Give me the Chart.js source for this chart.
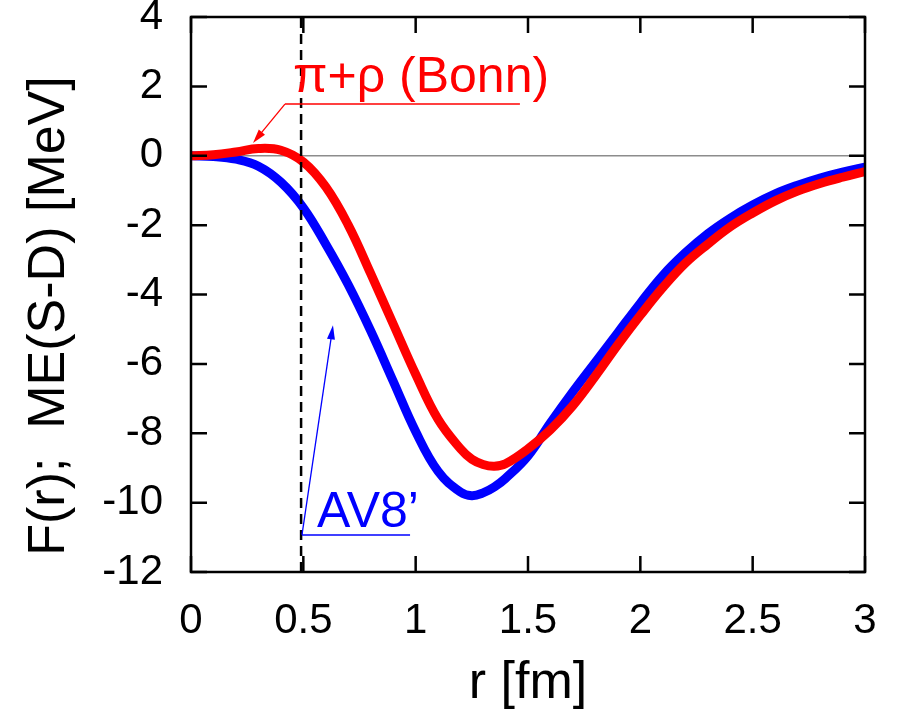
<!DOCTYPE html>
<html lang="en">
<head>
<meta charset="UTF-8">
<title>F(r); ME(S-D)</title>
<script src="https://cdn.jsdelivr.net/npm/chart.js"></script>
<style>
    body {
        margin: 0;
        background: #fff;
    }
    #wrap {
        width: 897px;
        height: 710px;
    }
</style>
</head>
<body>
<div id="wrap"><canvas id="chart" width="897" height="710"></canvas></div>
<script>
// r [fm] sample points (shared by both curves)
const rValues = [0, 0.1, 0.2, 0.3, 0.4, 0.5, 0.6, 0.7, 0.8, 0.9, 1.0, 1.1, 1.2, 1.25, 1.3, 1.35, 1.4,
    1.5, 1.6, 1.7, 1.8, 1.9, 2.0, 2.1, 2.2, 2.3, 2.4, 2.5, 2.6, 2.7, 2.8, 2.9, 3.0];
// AV8' (blue)
const av8Values = [0, -0.02, -0.1, -0.3, -0.76, -1.5, -2.55, -3.72, -5.05, -6.5, -7.95, -9.1, -9.7,
    -9.8, -9.72, -9.55, -9.3, -8.65, -7.7, -6.8, -5.95, -5.1, -4.25, -3.45, -2.8, -2.25, -1.8, -1.42, -1.1,
    -0.85, -0.64, -0.47, -0.33];
// pi+rho (Bonn) (red)
const bonnValues = [0, 0.03, 0.11, 0.21, 0.16, -0.18, -0.9, -2.0, -3.4, -4.85, -6.3, -7.6, -8.45,
    -8.75, -8.9, -8.95, -8.88, -8.45, -7.9, -7.2, -6.35, -5.45, -4.6, -3.8, -3.1, -2.55, -2.05, -1.65, -1.3,
    -1.02, -0.8, -0.62, -0.46];

const xTickValues = [0, 0.5, 1, 1.5, 2, 2.5, 3];
const xTickLabels = ['0', '0.5', '1', '1.5', '2', '2.5', '3'];
const yTickValues = [-12, -10, -8, -6, -4, -2, 0, 2, 4];
const yTickLabels = ['-12', '-10', '-8', '-6', '-4', '-2', '0', '2', '4'];
const cutoffR = 0.49;

const xTitle = 'r [fm]';
const yTitle = 'F(r);  ME(S-D) [MeV]';
const bonnLabel = 'π+ρ (Bonn)';
const av8Label = 'AV8’';

const FONT = '"Liberation Sans", Arial, Helvetica, sans-serif';

function toPoints(xs, ys) {
    return xs.map((x, i) => ({ x: x, y: ys[i] }));
}

function arrow(ctx, x0, y0, x1, y1, color) {
    const ang = Math.atan2(y1 - y0, x1 - x0);
    const len = 14, half = 4;
    ctx.strokeStyle = color;
    ctx.fillStyle = color;
    ctx.lineWidth = 1.3;
    ctx.beginPath();
    ctx.moveTo(x0, y0);
    ctx.lineTo(x1 - len * 0.7 * Math.cos(ang), y1 - len * 0.7 * Math.sin(ang));
    ctx.stroke();
    ctx.beginPath();
    ctx.moveTo(x1, y1);
    ctx.lineTo(x1 - len * Math.cos(ang) + half * Math.sin(ang), y1 - len * Math.sin(ang) - half * Math.cos(ang));
    ctx.lineTo(x1 - len * Math.cos(ang) - half * Math.sin(ang), y1 - len * Math.sin(ang) + half * Math.cos(ang));
    ctx.closePath();
    ctx.fill();
}

// frame with inward ticks on all four sides, plus labels and arrows
const framePlugin = {
    id: 'frame',
    afterDatasetsDraw(chart) {
        const { ctx, chartArea: a, scales: { x, y } } = chart;
        ctx.save();
        ctx.strokeStyle = '#000';
        ctx.lineWidth = 2.5;
        ctx.strokeRect(a.left, a.top, a.right - a.left, a.bottom - a.top);
        ctx.beginPath();
        xTickValues.forEach(v => {
            const px = x.getPixelForValue(v);
            ctx.moveTo(px, a.bottom); ctx.lineTo(px, a.bottom - 16);
            ctx.moveTo(px, a.top); ctx.lineTo(px, a.top + 16);
        });
        yTickValues.forEach(v => {
            const py = y.getPixelForValue(v);
            ctx.moveTo(a.left, py); ctx.lineTo(a.left + 16, py);
            ctx.moveTo(a.right, py); ctx.lineTo(a.right - 16, py);
        });
        ctx.stroke();
        ctx.restore();
    },
    afterDraw(chart) {
        const { ctx, scales: { x, y } } = chart;
        const X = v => x.getPixelForValue(v);
        const Y = v => y.getPixelForValue(v);
        ctx.save();

        // red label
        ctx.font = '50px ' + FONT;
        ctx.textBaseline = 'alphabetic';
        ctx.textAlign = 'left';
        ctx.fillStyle = '#ff0000';
        ctx.fillText(bonnLabel, X(0.454), Y(1.84));
        ctx.strokeStyle = '#ff0000';
        ctx.lineWidth = 1.5;
        ctx.beginPath();
        ctx.moveTo(X(0.418), Y(1.49));
        ctx.lineTo(X(1.464), Y(1.49));
        ctx.stroke();
        arrow(ctx, X(0.418), Y(1.49), X(0.276), Y(0.37), '#ff0000');

        // blue label
        ctx.fillStyle = '#0000ff';
        ctx.fillText(av8Label, X(0.561), Y(-10.7));
        ctx.strokeStyle = '#0000ff';
        ctx.lineWidth = 1.5;
        ctx.beginPath();
        ctx.moveTo(X(0.494), Y(-10.93));
        ctx.lineTo(X(0.975), Y(-10.93));
        ctx.stroke();
        arrow(ctx, X(0.494), Y(-10.93), X(0.632), Y(-4.89), '#0000ff');

        // y axis title
        ctx.fillStyle = '#000';
        ctx.font = '52px ' + FONT;
        ctx.textAlign = 'center';
        ctx.textBaseline = 'middle';
        ctx.translate(50, 316);
        ctx.rotate(-Math.PI / 2);
        ctx.fillText(yTitle, 0, 0);
        ctx.restore();
    }
};

new Chart(document.getElementById('chart'), {
    type: 'line',
    data: {
        datasets: [
            {
                label: 'cutoff',
                data: [{ x: cutoffR, y: -12 }, { x: cutoffR, y: 4 }],
                borderColor: '#000',
                borderWidth: 2.5,
                borderDash: [10, 6],
                pointRadius: 0,
                order: 0
            },
            {
                label: bonnLabel,
                data: toPoints(rValues, bonnValues),
                borderColor: '#ff0000',
                borderWidth: 9,
                pointRadius: 0,
                tension: 0.4,
                borderJoinStyle: 'round',
                order: 1
            },
            {
                label: av8Label,
                data: toPoints(rValues, av8Values),
                borderColor: '#0000ff',
                borderWidth: 9,
                pointRadius: 0,
                tension: 0.4,
                borderJoinStyle: 'round',
                order: 2
            },
            {
                label: 'zero',
                data: [{ x: 0, y: 0 }, { x: 3, y: 0 }],
                borderColor: '#8c8c8c',
                borderWidth: 1.5,
                pointRadius: 0,
                order: 3
            }
        ]
    },
    options: {
        responsive: false,
        animation: false,
        devicePixelRatio: 1,
        layout: { padding: { top: 17, right: 32, bottom: 0, left: 0 } },
        plugins: {
            legend: { display: false },
            tooltip: { enabled: false }
        },
        scales: {
            x: {
                type: 'linear',
                min: 0,
                max: 3,
                grid: { display: false, drawTicks: false },
                border: { display: false },
                afterBuildTicks: scale => { scale.ticks = xTickValues.map(v => ({ value: v })); },
                afterFit: scale => {
                    scale.height = 138;
                    scale.paddingLeft = 0;
                    scale.paddingRight = 0;
                },
                ticks: {
                    color: '#000',
                    padding: 28,
                    maxRotation: 0,
                    callback: (v, i) => xTickLabels[i],
                    font: { family: FONT, size: 42, lineHeight: 1 }
                },
                title: {
                    display: true,
                    text: xTitle,
                    color: '#000',
                    padding: { top: 0, bottom: 0 },
                    font: { family: FONT, size: 52, lineHeight: 1 }
                }
            },
            y: {
                type: 'linear',
                min: -12,
                max: 4,
                grid: { display: false, drawTicks: false },
                border: { display: false },
                afterBuildTicks: scale => { scale.ticks = yTickValues.map(v => ({ value: v })); },
                afterFit: scale => {
                    scale.width = 191;
                    scale.paddingTop = 0;
                    scale.paddingBottom = 0;
                },
                ticks: {
                    color: '#000',
                    padding: 28,
                    callback: (v, i) => yTickLabels[i],
                    font: { family: FONT, size: 42, lineHeight: 1 }
                }
            }
        }
    },
    plugins: [framePlugin]
});
</script>
</body>
</html>
